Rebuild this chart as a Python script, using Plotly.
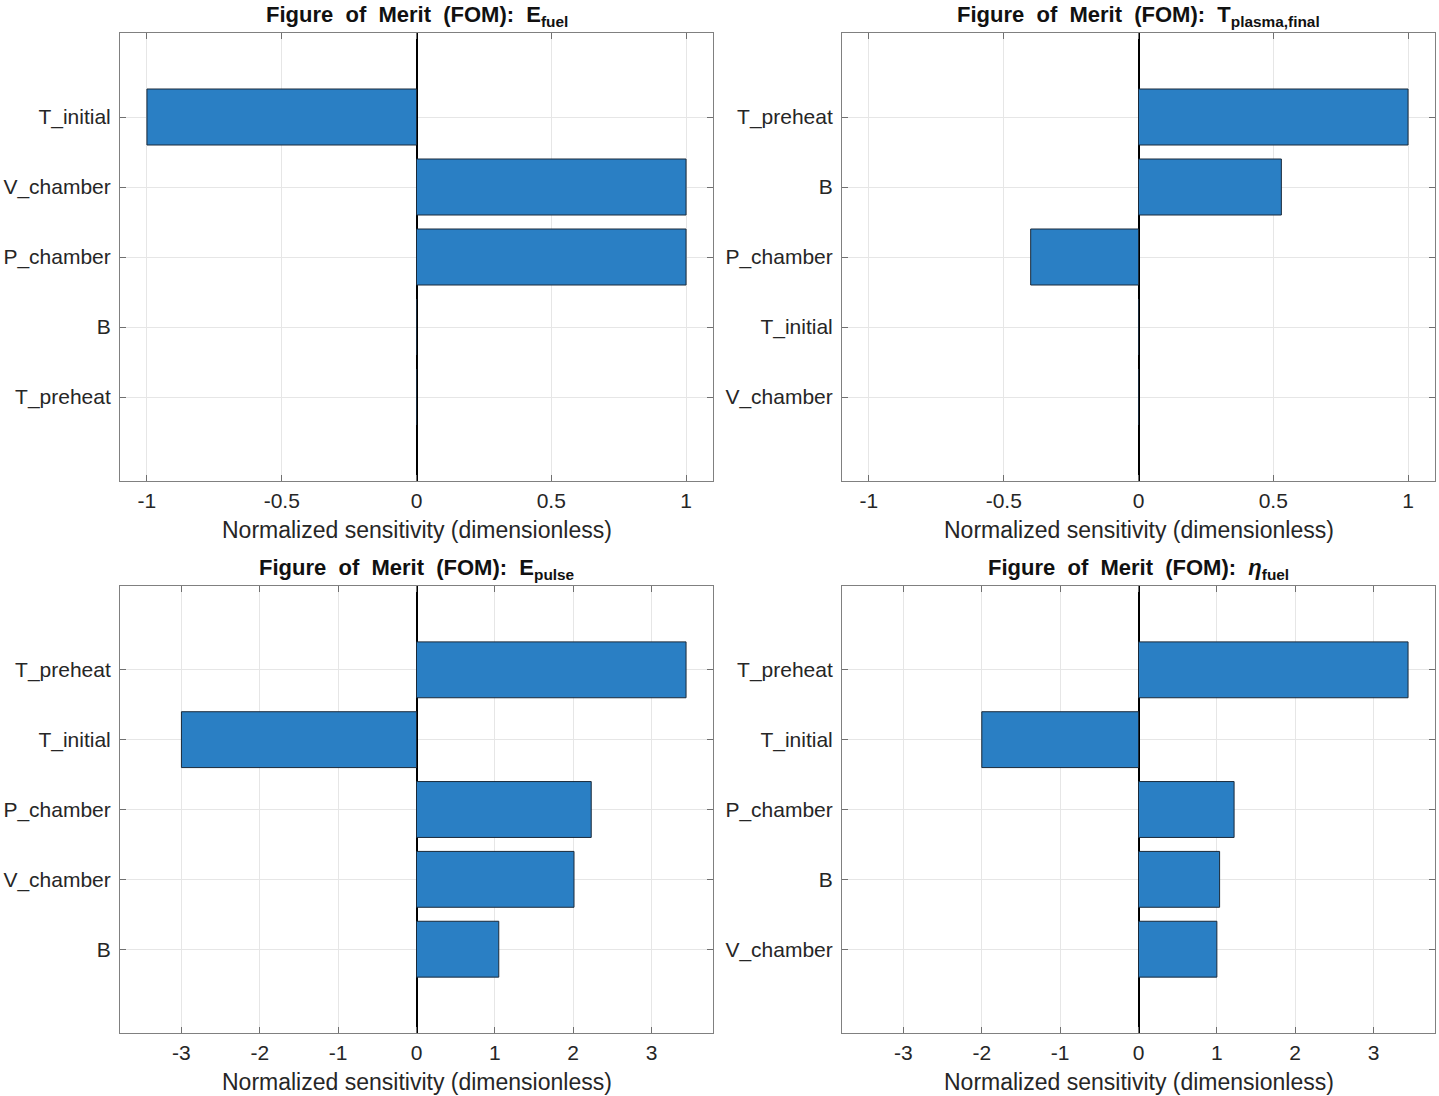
import plotly.graph_objects as go

# ---- data ----
cats_efuel = ["T_initial", "V_chamber", "P_chamber", "B", "T_preheat"]
vals_efuel = [-1.0, 1.0, 1.0, 0.0, 0.0]

cats_tplasma = ["T_preheat", "B", "P_chamber", "T_initial", "V_chamber"]
vals_tplasma = [1.0, 0.53, -0.40, 0.0, 0.0]

cats_epulse = ["T_preheat", "T_initial", "P_chamber", "V_chamber", "B"]
vals_epulse = [3.44, -3.0, 2.23, 2.01, 1.05]

cats_eta = ["T_preheat", "T_initial", "P_chamber", "B", "V_chamber"]
vals_eta = [3.44, -2.0, 1.22, 1.035, 1.0]

titles = [
    "Figure&nbsp; of&nbsp; Merit&nbsp; (FOM):&nbsp; E<sub>fuel</sub>",
    "Figure&nbsp; of&nbsp; Merit&nbsp; (FOM):&nbsp; T<sub>plasma,final</sub>",
    "Figure&nbsp; of&nbsp; Merit&nbsp; (FOM):&nbsp; E<sub>pulse</sub>",
    "Figure&nbsp; of&nbsp; Merit&nbsp; (FOM):&nbsp; <i>η</i><sub>fuel</sub>",
]
xlabel = "Normalized sensitivity (dimensionless)"
xt_small = [-1, -0.5, 0, 0.5, 1]
xt_small_txt = ["-1", "-0.5", "0", "0.5", "1"]
xt_big = [-3, -2, -1, 0, 1, 2, 3]
xt_big_txt = ["-3", "-2", "-1", "0", "1", "2", "3"]

W, H = 1439, 1096
FONT = "Liberation Sans, Arial, Helvetica, sans-serif"
BAR = "rgb(42,127,196)"

panels = [
    (cats_efuel, vals_efuel, [-1.1, 1.1], xt_small, xt_small_txt),
    (cats_tplasma, vals_tplasma, [-1.1, 1.1], xt_small, xt_small_txt),
    (cats_epulse, vals_epulse, [-3.784, 3.784], xt_big, xt_big_txt),
    (cats_eta, vals_eta, [-3.784, 3.784], xt_big, xt_big_txt),
]

# axes boxes in pixels (left, right, top, bottom)
boxes = [
    (120, 713, 33, 481),
    (842, 1435, 33, 481),
    (120, 713, 586, 1033),
    (842, 1435, 586, 1033),
]

fig = go.Figure()
annotations = []
for i, ((cats, vals, xr, tv, tt), (l, r, t, b)) in enumerate(zip(panels, boxes)):
    n = i + 1
    xa = "x" if n == 1 else f"x{n}"
    ya = "y" if n == 1 else f"y{n}"
    fig.add_trace(go.Bar(
        x=vals, y=cats, orientation="h", width=0.8,
        marker=dict(color=BAR, line=dict(color="#1a2a3a", width=1)),
        xaxis=xa, yaxis=ya, showlegend=False,
    ))
    xkey = "xaxis" if n == 1 else f"xaxis{n}"
    ykey = "yaxis" if n == 1 else f"yaxis{n}"
    common = dict(
        showline=True, linecolor="#808080", linewidth=1, mirror="ticks",
        ticks="inside", ticklen=6, tickcolor="#707070", tickwidth=1,
        showgrid=True, gridcolor="#e6e6e6", gridwidth=1,
        tickfont=dict(family=FONT, size=21, color="#262626"),
    )
    fig.layout[xkey] = dict(
        common, domain=[l / W, r / W], anchor=ya, range=xr,
        tickvals=tv, ticktext=tt, zeroline=True, zerolinecolor="#000000",
        zerolinewidth=1.8, ticklabelstandoff=1,
    )
    fig.layout[ykey] = dict(
        common, domain=[1 - b / H, 1 - t / H], anchor=xa,
        type="category", categoryorder="array", categoryarray=cats,
        range=[len(cats) - 1 + 1.2, -1.2], ticklabelstandoff=4,
    )
    cx = (l + r) / 2 / W
    annotations.append(dict(
        text="<b>" + titles[i] + "</b>", x=cx, y=1 - (t - 1) / H,
        xref="paper", yref="paper", xanchor="center", yanchor="bottom",
        showarrow=False, font=dict(family=FONT, size=22, color="#111111"),
    ))
    annotations.append(dict(
        text=xlabel, x=cx, y=1 - (b + 34) / H,
        xref="paper", yref="paper", xanchor="center", yanchor="top",
        showarrow=False, font=dict(family=FONT, size=23, color="#262626"),
    ))

fig.update_layout(
    width=W, height=H, margin=dict(l=0, r=0, t=0, b=0),
    paper_bgcolor="white", plot_bgcolor="white",
    annotations=annotations, bargap=0.2,
)
fig.write_html(
    "out.html",
    config={"displayModeBar": False},
    post_script="document.body.style.margin='0';document.body.style.overflow='hidden';",
)
